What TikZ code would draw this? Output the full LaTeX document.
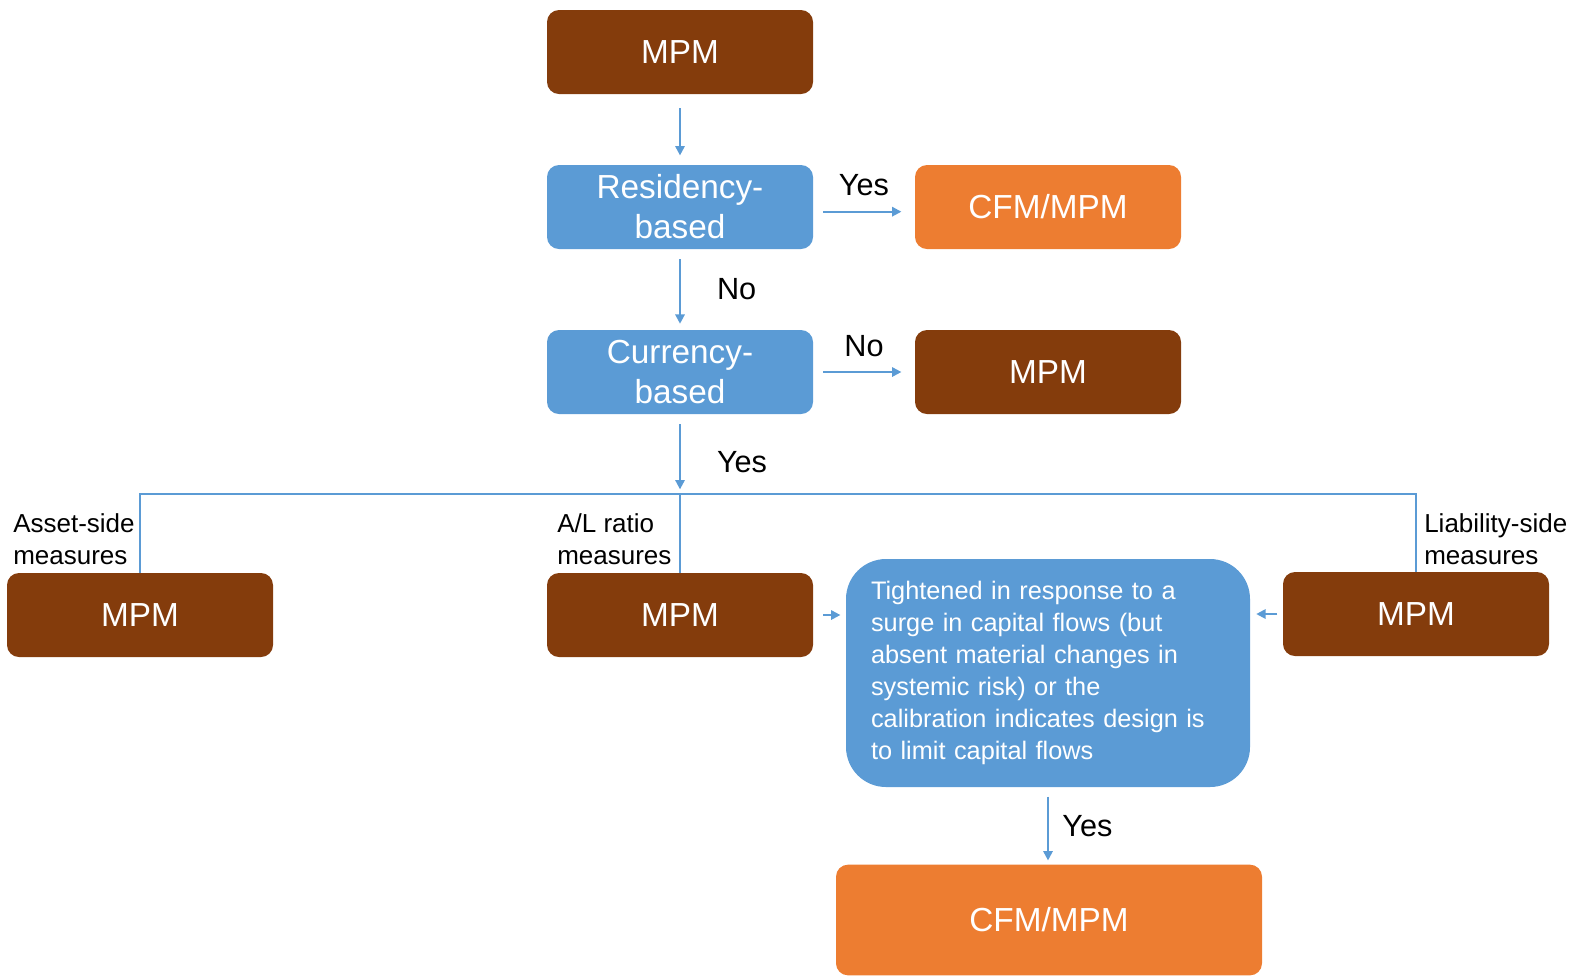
\documentclass[tikz,border=0pt]{standalone}
\usepackage{fontspec}
\setmainfont{Liberation Sans}
\usetikzlibrary{arrows.meta,positioning}
\definecolor{mpmbrown}{HTML}{843C0C}
\definecolor{qblue}{HTML}{5B9BD5}
\definecolor{cfmorange}{HTML}{ED7D31}
\tikzset{
  box/.style={rounded corners=9pt, minimum width=199.5pt, minimum height=63pt, inner sep=0pt,
    text=white, align=center, font=\fontsize{25}{30}\selectfont},
  mpm/.style={box, fill=mpmbrown},
  ask/.style={box, fill=qblue},
  cfm/.style={box, fill=cfmorange},
  link/.style={draw=qblue, line width=1.5pt},
  arr/.style={link, -{Triangle[length=7pt,width=7pt]}, shorten <=7.5pt, shorten >=7pt},
  lbl/.style={font=\fontsize{23}{28}\selectfont, inner sep=0pt},
  side/.style={font=\fontsize{19.5}{24.2}\selectfont, align=left, anchor=west, inner sep=0pt},
}
\begin{document}
\begin{tikzpicture}[x=0.75pt,y=-0.75pt]
  \useasboundingbox (0,0) rectangle (1580,976);
  % upper chain
  \node[mpm] (top) at (680,52) {MPM};
  \node[ask] (res) at (680,207) {Residency-\\based};
  \node[cfm] (cfmA) at (1048,207) {CFM/MPM};
  \node[ask] (cur) at (680,372) {Currency-\\based};
  \node[mpm] (mpmB) at (1048,372) {MPM};
  % lower row
  \node[mpm] (asset) at (140,615) {MPM};
  \node[mpm] (al) at (680,615) {MPM};
  \node[mpm] (liab) at (1416,614) {MPM};
  \node[ask, rounded corners=30pt, minimum width=303pt, minimum height=171pt, text width=265.5pt,
    font=\fontsize{19}{23.9}\selectfont, align=left] (big) at (1048,673)
    {Tightened in response to a\\surge in capital flows (but\\absent material changes in\\systemic risk) or the\\calibration indicates design is\\to limit capital flows};
  \node[cfm, minimum width=319.5pt, minimum height=83pt] (cfmB) at (1049,920) {CFM/MPM};
  \node[side] (assetlbl) at (13,539) {Asset-side\\measures};
  \node[side] (allbl) at (557,539) {A/L ratio\\measures};
  \node[side] (liablbl) at (1424,539) {Liability-side\\measures};
  \coordinate (bus) at (680,494);

  \draw[arr, shorten <=10.5pt] (top) -- (res);
  \draw[arr, shorten >=10pt] ([yshift=-3.5pt]res.east) -- node[lbl, above=11pt] (yesA) {Yes} ([yshift=-3.5pt]cfmA.west);
  \draw[arr, shorten >=4.5pt] (res) -- node[lbl, right=27pt] (noA) {No} (cur);
  \draw[arr, shorten >=10pt] (cur) -- node[lbl, above=10.5pt] (noB) {No} (mpmB);
  \draw[arr, shorten >=3.5pt] (cur) -- node[lbl, pos=0.6, right=27pt] (yesB) {Yes} (bus);
  \draw[link] (asset.north) |- (bus) -| (liab.north);
  \draw[link] (bus) -- (al);
  \draw[arr, shorten <=7.5pt, shorten >=4pt] (al.east) -- (al.east -| big.west);
  \draw[arr, shorten <=4pt, shorten >=4.5pt] (liab.west) -- (liab.west -| big.east);
  \draw[arr, shorten <=7pt, shorten >=3pt] (big.south) -- node[lbl, right=10pt] (yesC) {Yes} (big.south |- cfmB.north);
\end{tikzpicture}
\end{document}
